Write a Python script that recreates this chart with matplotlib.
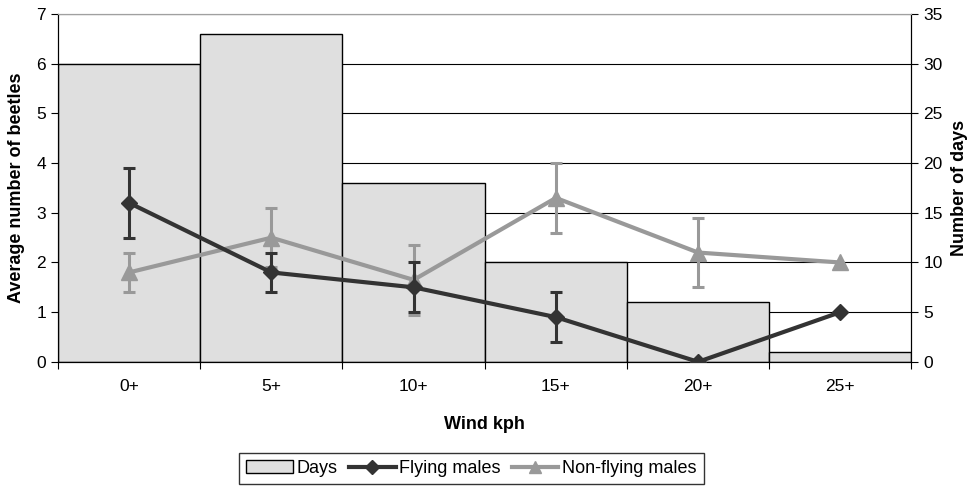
import numpy as np
import matplotlib.pyplot as plt
from matplotlib.lines import Line2D
from matplotlib.patches import Patch

plt.rcParams['font.family'] = ['Liberation Sans', 'DejaVu Sans']

# Data
wind = ['0+', '5+', '10+', '15+', '20+', '25+']
days = [30, 33, 18, 10, 6, 1]
flying = [3.2, 1.8, 1.5, 0.9, 0.0, 1.0]
flying_err = [0.7, 0.4, 0.5, 0.5, 0.0, 0.0]
nonflying = [1.8, 2.5, 1.65, 3.3, 2.2, 2.0]
nonflying_err = [0.4, 0.6, 0.7, 0.7, 0.7, 0.0]

dark = '#333333'
light = '#999999'
fill = '#dfdfdf'
x = np.arange(len(wind))

fig, ax = plt.subplots(figsize=(9.78, 4.87), dpi=100)
fig.subplots_adjust(left=0.0593, right=0.932, top=0.971, bottom=0.257)
ax2 = ax.twinx()

# Bars for number of days on the right axis, behind the lines
ax2.set_axisbelow(True)
ax2.yaxis.grid(True, color='black', linewidth=0.8)
ax2.bar(x, days, width=1.0, color=fill, edgecolor='black', linewidth=1.0, zorder=2)
ax2.set_ylim(0, 35)
ax2.set_yticks(np.arange(0, 36, 5))
ax2.set_ylabel('Number of days', fontsize=13, fontweight='bold', labelpad=6)

# Lines with error bars on the left axis
ax.set_zorder(ax2.get_zorder() + 1)
ax.patch.set_visible(False)
fe = [e if e > 0 else np.nan for e in flying_err]
ne = [e if e > 0 else np.nan for e in nonflying_err]
ax.errorbar(x, nonflying, yerr=ne, color=light, marker='^', markersize=11,
            linewidth=3, elinewidth=2.2, capsize=4, capthick=2.2, zorder=3)
ax.errorbar(x, flying, yerr=fe, color=dark, marker='D', markersize=8,
            linewidth=3, elinewidth=2.2, capsize=4, capthick=2.2, zorder=4)
ax.set_ylim(0, 7)
ax.set_xlim(-0.5, len(wind) - 0.5)
ax.set_ylabel('Average number of beetles', fontsize=13, fontweight='bold', labelpad=8)
ax.set_xlabel('Wind kph', fontsize=13, fontweight='bold', labelpad=16)

# Category ticks between bars, labels at bar centres
ax.set_xticks(np.arange(-0.5, len(wind), 1.0))
ax.set_xticklabels([])
ax.set_xticks(x, minor=True)
ax.set_xticklabels(wind, minor=True)
ax.tick_params(axis='x', which='major', direction='out', length=5, color='black')
ax.tick_params(axis='x', which='minor', length=0, pad=12, labelsize=12.5)
ax.tick_params(axis='y', direction='out', length=5, labelsize=12.5)
ax2.tick_params(axis='y', direction='out', length=5, labelsize=12.5)

for a in (ax, ax2):
    a.spines['top'].set_color('#a0a0a0')
    a.spines['left'].set_color('black')
    a.spines['right'].set_color('black')
    a.spines['bottom'].set_color('black')

handles = [
    Patch(facecolor=fill, edgecolor='black', linewidth=1.0),
    Line2D([], [], color=dark, marker='D', markersize=7, linewidth=3),
    Line2D([], [], color=light, marker='^', markersize=9, linewidth=3),
]
leg = fig.legend(handles, ['Days', 'Flying males', 'Non-flying males'],
                 loc='upper center', bbox_to_anchor=(0.482, 0.07), ncol=3,
                 fontsize=13, frameon=True, fancybox=False, edgecolor='black',
                 handlelength=2.6, handletextpad=0.2, columnspacing=0.6,
                 borderpad=0.4, borderaxespad=0)
leg.get_frame().set_linewidth(1.0)

fig.savefig('out.png', dpi=100)
